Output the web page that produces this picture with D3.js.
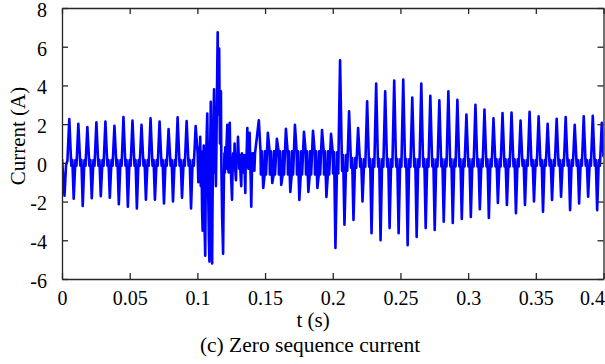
<!DOCTYPE html>
<html><head><meta charset="utf-8">
<script src="https://cdn.jsdelivr.net/npm/d3@7/dist/d3.min.js"></script>
<style>
body{margin:0;background:#fff}
svg{display:block}
svg text{font-family:'Liberation Serif','Times New Roman',Tinos,Times,serif;fill:#000}
</style>
</head><body>
<svg id="c" width="605" height="364"></svg>
<script>
// ---- data ----
const xTicks = [0, 0.05, 0.1, 0.15, 0.2, 0.25, 0.3, 0.35, 0.4];
const yTicks = [-6, -4, -2, 0, 2, 4, 6, 8];
const xLabel = "t (s)";
const yLabel = "Current (A)";
const caption = "(c) Zero sequence current";

// 150 Hz zero-sequence component: one peak / one trough per cycle
const firstPeakMs = 5.4;
const periodMs = 1000 / 150;
const peakV = [2.26, 2.02, 1.85, 2.09, 2.13, 1.92, 2.37, 2.18, 1.97, 2.30,
               2.14, 1.75, 2.35, 2.16, 1.90, null, null, null, null, null,
               null, 2.20, 1.55, 1.24, 1.76, 1.97, 1.60, 1.66, 1.70, 1.50,
               5.30, 2.66, 1.80, 3.18, 4.10, 3.70, 4.25, 4.30, 3.37, 4.10,
               3.47, 3.23, 3.70, 3.26, 2.49, 3.00, 2.75, 2.30, 2.57, 2.60,
               2.19, 2.64, 2.40, 2.02, 2.28, 2.37, 1.97, 2.40, 2.43, 2.07];
const troughV = [-1.85, -2.23, -1.83, -1.72, -1.80, -2.13, -2.26, -2.35, -1.90, -1.90,
                 -2.10, -2.00, -1.80, -2.35, null, null, null, null, null, null,
                 null, -1.30, -1.04, -1.14, -1.50, -1.92, -1.50, -1.30, -1.76, -4.40,
                 -3.20, -2.95, -2.00, -3.63, -4.00, -3.37, -3.63, -4.25, -3.83, -3.37,
                 -3.47, -3.04, -3.10, -2.90, -2.80, -2.40, -2.85, -2.07, -2.18, -2.60,
                 -2.18, -2.00, -2.52, -1.92, -1.75, -2.44, -2.10, -1.75, -2.44, null];
// half-width of the ripple band around zero between peaks and troughs
const rippleV = [0.15, 0.15, 0.15, 0.15, 0.15, 0.15, 0.15, 0.15, 0.15, 0.15,
                 0.15, 0.15, 0.15, 0.15, 0.15, 0.5, 0.5, 0.5, 0.5, 0.5,
                 0.5, 0.6, 0.6, 0.6, 0.6, 0.6, 0.6, 0.6, 0.6, 0.55,
                 0.4, 0.25, 0.2, 0.2, 0.2, 0.2, 0.2, 0.2, 0.2, 0.2,
                 0.18, 0.18, 0.18, 0.18, 0.18, 0.18, 0.18, 0.18, 0.18, 0.18,
                 0.15, 0.15, 0.15, 0.15, 0.15, 0.15, 0.15, 0.15, 0.15, 0.15];
// start, fault transient and end samples (time in ms, current in A)
const irregularMs = [0, 1.85, 3.0, 4.0,
  100.2, 100.7, 101.2, 101.6, 102.1, 102.5, 103.0, 103.5, 103.9, 104.3,
  104.7, 105.2, 105.8, 106.2, 106.5, 106.9, 107.3, 107.7, 108.1, 108.5,
  108.9, 109.2, 109.5, 109.9, 110.2, 110.5, 110.9, 111.2, 111.6, 112.0,
  112.3, 112.7, 113.0, 113.4, 113.7, 114.1, 114.4, 114.7, 115.0, 115.3,
  115.6, 115.9, 116.1, 116.4, 116.7, 117.0, 117.4, 117.6, 117.8, 118.1,
  118.3, 118.7, 119.0, 119.3, 119.6, 120.0, 120.3, 120.6, 121.1, 121.6,
  122.1, 122.6, 123.1, 123.5, 123.9, 124.3, 124.7, 125.2, 125.6, 126.0,
  126.4, 127.0, 127.5, 128.0, 128.5, 129.0, 129.5, 130.0, 130.5, 130.9,
  131.4, 131.9, 132.4, 132.9, 133.3, 133.7, 134.2, 134.7, 135.1, 135.4,
  135.8, 136.1, 136.5, 136.9, 137.3, 137.7, 138.1, 138.6, 139.0, 139.4,
  139.8, 140.3, 140.7, 141.1, 141.6, 142.1, 142.6,
  400.0];
const irregularV = [0.2, -1.7, -0.1, 0.1,
  0.5, -1.0, 0.8, -0.6, 1.35, -1.2, 0.6, -2.5, -3.5, -0.5,
  0.9, -3.0, -4.8, -1.0, 0.3, 1.5, 2.55, 0.5, -2.0, -4.0,
  -5.1, -1.5, 0.8, 3.15, 0.5, -2.5, -5.2, -2.0, 0.5, 2.5,
  3.8, 1.5, -0.5, 0.8, -1.2, 1.0, 3.0, 5.0, 6.75, 4.0,
  2.5, 4.5, 5.9, 3.0, 1.0, 2.0, 3.7, 1.0, -0.5, -1.8,
  -2.8, -3.8, -4.7, -2.5, -0.9, 0.5, -0.5, 0.8, -0.3, 1.0,
  1.97, -0.2, -0.5, 1.2, 2.07, 0.4, -0.2, -1.2, -1.9, -0.4,
  0.5, -0.2, 1.0, -0.4, -0.9, 0.4, 0.1, 1.35, 0.4, -0.3,
  0.4, -0.6, -1.2, 0.5, -0.4, 0.3, -0.5, 0.4, -0.8, -1.56,
  0.4, -0.2, 0.7, 1.8, 0.4, -0.3, 0.5, 1.55, 0.2, -0.8,
  -2.26, -0.5, 0.5, -0.3, 0.5, -0.4, 0.5,
  0.3];

// ---- build the series ----
// ms offsets (from each peak) of the ripple samples on the plateaus around zero
const afterPeak = [1.25, 1.5, 1.75, 2.0, 2.25];
const afterTrough = [4.3, 4.55, 4.8, 5.05, 5.3];
const troughOffset = 3.25;
const pts = [];
peakV.forEach((p, n) => {
  const tp = firstPeakMs + n * periodMs, r = rippleV[n], tr = troughV[n];
  if (p !== null) pts.push([tp, p]);
  if (tr !== null) {
    afterPeak.forEach((o, i) => pts.push([tp + o, i % 2 ? -r : r]));
    pts.push([tp + troughOffset, tr]);
    afterTrough.forEach((o, i) => pts.push([tp + o, i % 2 ? r : -r]));
  }
});
irregularMs.forEach((t, i) => pts.push([t, irregularV[i]]));
pts.sort((a, b) => a[0] - b[0]);

// ---- draw ----
const FONT = "'Liberation Serif','Times New Roman',Tinos,Times,serif";
const svg = d3.select("#c");
const L = 62, R = 603.5, T = 8, B = 279;
const x = d3.scaleLinear().domain([0, 0.4]).range([L, R]);
const y = d3.scaleLinear().domain([-6, 8]).range([B, T]);

svg.append("defs").append("clipPath").attr("id", "clip")
  .append("rect").attr("x", L).attr("y", T).attr("width", R - L).attr("height", B - T);

svg.append("path")
  .datum(pts)
  .attr("clip-path", "url(#clip)")
  .attr("fill", "none")
  .attr("stroke", "#0000ff")
  .attr("stroke-width", 2.6)
  .attr("stroke-linejoin", "round")
  .attr("d", d3.line().x(d => x(d[0] / 1000)).y(d => y(d[1])));

const axisColor = "#262626";
function style(g) {
  g.attr("font-family", FONT);
  g.selectAll("path.domain").attr("stroke", axisColor).attr("stroke-width", 1.3);
  g.selectAll(".tick line").attr("stroke", axisColor).attr("stroke-width", 1.3);
  g.selectAll("text").attr("font-size", 20).attr("fill", "#000").attr("font-family", FONT);
}
const fmt = d => String(d);
const gx = svg.append("g").attr("transform", `translate(0,${B})`)
  .call(d3.axisBottom(x).tickValues(xTicks).tickSize(-6).tickSizeOuter(0).tickPadding(12).tickFormat(fmt))
  .call(style);
// the last label sits against the right edge of the figure
gx.selectAll(".tick text").filter(d => d === 0.4).attr("text-anchor", "end").attr("x", 1);
svg.append("g").attr("transform", `translate(0,${T})`)
  .call(d3.axisTop(x).tickValues(xTicks).tickSize(-6).tickSizeOuter(0).tickFormat(""))
  .call(style);
const gy = svg.append("g").attr("transform", `translate(${L},0)`)
  .call(d3.axisLeft(y).tickValues(yTicks).tickSize(-6).tickSizeOuter(0).tickPadding(15).tickFormat(fmt))
  .call(style);
gy.selectAll(".tick text").attr("dy", "0.42em");
svg.append("g").attr("transform", `translate(${R},0)`)
  .call(d3.axisRight(y).tickValues(yTicks).tickSize(-6).tickSizeOuter(0).tickFormat(""))
  .call(style);

svg.append("text").attr("x", 313).attr("y", 327).attr("font-family", FONT)
  .attr("text-anchor", "middle").attr("font-size", 21).text(xLabel);
svg.append("text").attr("transform", "translate(25,136) rotate(-90)").attr("font-family", FONT)
  .attr("text-anchor", "middle").attr("font-size", 21).text(yLabel);
svg.append("text").attr("x", 310).attr("y", 352).attr("font-family", FONT)
  .attr("text-anchor", "middle").attr("font-size", 21.5).text(caption);
</script>
</body></html>
